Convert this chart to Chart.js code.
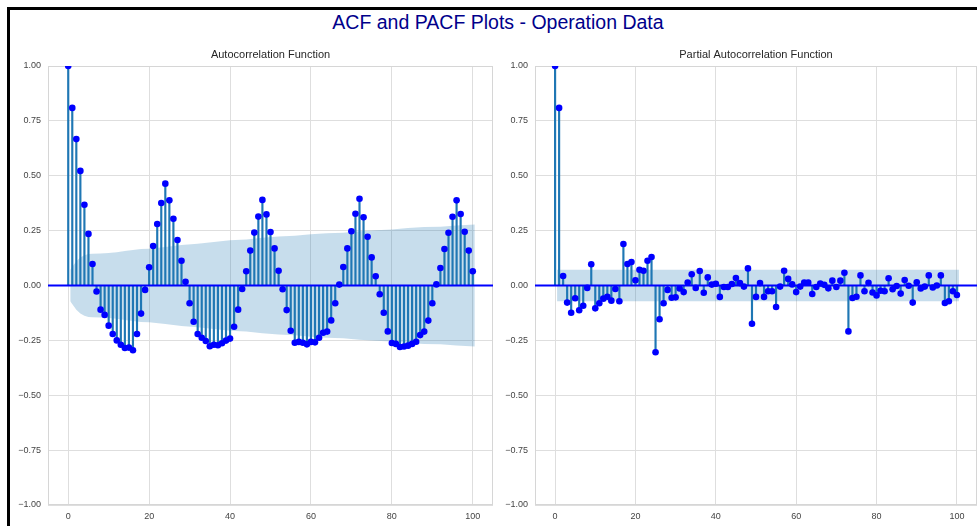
<!DOCTYPE html>
<html>
<head>
<meta charset="utf-8">
<script src="https://cdn.jsdelivr.net/npm/chart.js@4.4.1/dist/chart.umd.min.js"></script>
<style>
  html, body { margin: 0; padding: 0; background: #fff; overflow: hidden; }
  #page { position: relative; width: 977px; height: 526px; overflow: hidden; }
  #frame { position: absolute; left: 7px; top: 7px; width: 1100px; height: 700px;
           border-left: 3px solid #000; border-top: 3px solid #000; }
  #title { position: absolute; left: 0; top: 10px; width: 996px; text-align: center;
           font: 19.5px "Liberation Sans", Arial, sans-serif; line-height: 24px; color: #00008b; }
  .box { position: absolute; top: 0; height: 526px; }
</style>
</head>
<body>
<div id="page">
  <div id="frame"></div>
  <div id="title">ACF and PACF Plots - Operation Data</div>
  <div class="box" style="left:0;width:500px"><canvas id="acfChart"></canvas></div>
  <div class="box" style="left:487px;width:490px"><canvas id="pacfChart"></canvas></div>
</div>
<script>
// lags shown on both plots
var lags = [0,1,2,3,4,5,6,7,8,9,10,11,12,13,14,15,16,17,18,19,20,21,22,23,24,25,26,27,28,29,30,
  31,32,33,34,35,36,37,38,39,40,41,42,43,44,45,46,47,48,49,50,51,52,53,54,55,56,57,58,59,60,
  61,62,63,64,65,66,67,68,69,70,71,72,73,74,75,76,77,78,79,80,81,82,83,84,85,86,87,88,89,90,
  91,92,93,94,95,96,97,98,99,100];

// autocorrelation values
var acfValues = [1.0, 0.809, 0.667, 0.522, 0.368, 0.235, 0.098, -0.027, -0.11, -0.134,
  -0.183, -0.221, -0.25, -0.27, -0.285, -0.283, -0.295, -0.221, -0.128, -0.02,
  0.083, 0.18, 0.28, 0.376, 0.464, 0.388, 0.304, 0.207, 0.113, 0.017,
  -0.081, -0.165, -0.221, -0.238, -0.253, -0.277, -0.27, -0.272, -0.263, -0.251,
  -0.242, -0.188, -0.11, -0.016, 0.065, 0.159, 0.241, 0.314, 0.39, 0.324,
  0.244, 0.169, 0.067, -0.017, -0.112, -0.206, -0.261, -0.257, -0.261, -0.268,
  -0.257, -0.259, -0.238, -0.215, -0.21, -0.159, -0.081, 0.004, 0.084, 0.169,
  0.247, 0.327, 0.395, 0.311, 0.222, 0.128, 0.042, -0.04, -0.124, -0.209,
  -0.262, -0.266, -0.28, -0.278, -0.274, -0.266, -0.256, -0.226, -0.21, -0.16,
  -0.081, 0.005, 0.08, 0.166, 0.24, 0.313, 0.388, 0.326, 0.245, 0.159, 0.065];

// partial autocorrelation values
var pacfValues = [1.0, 0.809, 0.043, -0.078, -0.124, -0.058, -0.113, -0.092, -0.011, 0.097,
  -0.104, -0.081, -0.06, -0.051, -0.069, -0.016, -0.072, 0.189, 0.098, 0.107,
  0.024, 0.072, 0.067, 0.113, 0.13, -0.304, -0.154, -0.081, -0.02, -0.056,
  -0.054, -0.014, -0.03, 0.014, 0.051, -0.011, 0.066, -0.033, 0.037, 0.004,
  0.008, -0.052, -0.007, -0.007, 0.007, 0.034, 0.011, -0.005, 0.078, -0.174,
  -0.052, 0.011, -0.052, -0.026, -0.026, -0.098, -0.005, 0.067, 0.03, 0.005,
  -0.03, -0.005, 0.013, 0.013, -0.039, -0.007, 0.009, 0.003, -0.013, 0.022,
  -0.007, 0.022, 0.058, -0.209, -0.057, -0.051, 0.046, -0.026, 0.012, -0.032,
  -0.045, -0.024, -0.026, 0.033, -0.017, -0.002, -0.037, 0.025, -0.001, -0.078,
  0.015, -0.014, -0.005, 0.046, -0.009, 0.0, 0.046, -0.08, -0.072, -0.026, -0.043];

// confidence bands (half width, symmetric about zero)
var acfBandLags = [0.5, 2, 3, 4, 5, 6, 8, 10, 12, 14, 16, 18, 20, 24, 28, 32, 36, 40, 44, 48,
  52, 56, 60, 64, 68, 72, 76, 80, 84, 88, 92, 96, 100.5];
var acfBand = [0.072, 0.11, 0.128, 0.138, 0.143, 0.145, 0.146, 0.148, 0.152, 0.157, 0.162, 0.166,
  0.167, 0.175, 0.184, 0.19, 0.198, 0.206, 0.21, 0.218, 0.223, 0.227, 0.234, 0.238, 0.24,
  0.247, 0.252, 0.255, 0.262, 0.266, 0.268, 0.273, 0.278];
var pacfBandLags = [0.5, 100.5];
var pacfBand = [0.072, 0.072];

var xTicks = [0, 20, 40, 60, 80, 100];
var yTicks = [-1, -0.75, -0.5, -0.25, 0, 0.25, 0.5, 0.75, 1];

Chart.defaults.font.family = '"Liberation Sans", Arial, sans-serif';
Chart.defaults.animation = false;

// light frame round the plot area
var framePlugin = {
  id: 'frame',
  beforeDatasetsDraw: function(chart) {
    var a = chart.chartArea, c = chart.ctx;
    c.save();
    c.strokeStyle = '#d6d6d6';
    c.lineWidth = 1;
    c.strokeRect(a.left + 0.5, a.top + 0.5, a.right - a.left - 1, a.bottom - a.top - 1);
    c.restore();
  }
};

// blue zero line, drawn over the stems and under the markers
var zeroLine = {
  id: 'zeroLine',
  afterDatasetDraw: function(chart, args) {
    if (args.index !== 1) return;
    var a = chart.chartArea, c = chart.ctx;
    var y = chart.scales.y.getPixelForValue(0);
    c.save();
    c.strokeStyle = '#0000ff';
    c.lineWidth = 1.8;
    c.beginPath();
    c.moveTo(a.left, y);
    c.lineTo(a.right, y);
    c.stroke();
    c.restore();
  }
};

function makeChart(id, values, bandLags, band, title, padRight) {
  var points = lags.map(function(l, i) { return { x: l, y: values[i] }; });
  var upper = bandLags.map(function(l, i) { return { x: l, y: band[i] }; });
  var lower = bandLags.map(function(l, i) { return { x: l, y: -band[i] }; });

  return new Chart(document.getElementById(id), {
    type: 'scatter',
    data: {
      datasets: [
        { type: 'scatter', data: points, order: 0, clip: 0,
          pointRadius: 3.3, pointBackgroundColor: '#0000ff', pointBorderWidth: 0 },
        { type: 'bar', data: points, order: 1,
          backgroundColor: '#1f77b4', barThickness: 1.5, borderWidth: 0 },
        { type: 'line', data: upper, order: 2, fill: '+1',
          backgroundColor: 'rgba(31,119,180,0.25)', borderWidth: 0, pointRadius: 0 },
        { type: 'line', data: lower, order: 3, fill: false,
          borderWidth: 0, pointRadius: 0 }
      ]
    },
    options: {
      responsive: true,
      maintainAspectRatio: false,
      events: [],
      layout: { autoPadding: false, padding: { top: 48.8, left: 0, right: padRight, bottom: 0 } },
      plugins: {
        legend: { display: false },
        tooltip: { enabled: false },
        title: {
          display: true,
          text: title,
          fullSize: false,
          color: '#262626',
          font: { size: 11, weight: 'normal' },
          padding: { top: 0, bottom: 4 }
        }
      },
      scales: {
        x: {
          type: 'linear',
          min: -5,
          max: 105,
          offset: false,
          afterBuildTicks: function(s) { s.ticks = xTicks.map(function(v) { return { value: v }; }); },
          afterFit: function(s) { s.height = 21; s.paddingLeft = 0; s.paddingRight = 0; },
          ticks: { color: '#444', font: { size: 9 }, padding: 6, maxRotation: 0 },
          grid: { color: '#dedede', lineWidth: 1, drawTicks: false, offset: false },
          border: { display: false }
        },
        y: {
          min: -1,
          max: 1,
          afterBuildTicks: function(s) { s.ticks = yTicks.map(function(v) { return { value: v }; }); },
          afterFit: function(s) { s.width = 48; s.paddingTop = 0; s.paddingBottom = 0; },
          ticks: {
            color: '#444', font: { size: 9 }, padding: 7,
            callback: function(v) { return (v < 0 ? '\u2212' : '') + Math.abs(v).toFixed(2); }
          },
          grid: { color: '#dedede', lineWidth: 1, drawTicks: false },
          border: { display: false }
        }
      }
    },
    plugins: [framePlugin, zeroLine]
  });
}

makeChart('acfChart', acfValues, acfBandLags, acfBand, 'Autocorrelation Function', 7);
makeChart('pacfChart', pacfValues, pacfBandLags, pacfBand, 'Partial Autocorrelation Function', 0);
</script>
</body>
</html>
